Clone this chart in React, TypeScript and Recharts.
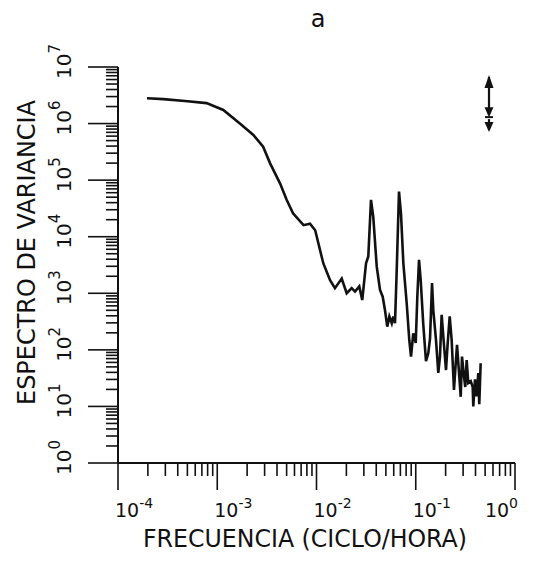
import React from 'react';
import { LineChart, Line, XAxis, YAxis, ReferenceLine } from 'recharts';

// frequency (ciclo/hora) and variance spectrum
const freq = [
  1.96e-4, 2.86e-4, 4.73e-4, 7.8e-4, 1.15e-3, 1.69e-3, 2.31e-3, 2.9e-3, 3.4e-3, 4.3e-3,
  5.0e-3, 5.8e-3, 7.4e-3, 8.6e-3, 9.7e-3, 1.17e-2, 1.37e-2, 1.534e-2, 1.795e-2, 2.014e-2,
  2.264e-2, 2.443e-2, 2.698e-2, 2.89e-2, 3.155e-2, 3.326e-2, 3.54e-2, 3.733e-2, 4.045e-2, 4.365e-2,
  4.645e-2, 4.9e-2, 5.165e-2, 5.42e-2, 5.73e-2, 5.94e-2, 6.18e-2, 6.43e-2, 6.78e-2, 7.1e-2,
  7.5e-2, 8.11e-2, 8.61e-2, 8.96e-2, 9.44e-2, 0.1, 0.1037, 0.1079, 0.1122, 0.1191,
  0.1268, 0.1337, 0.1393, 0.1459, 0.1503, 0.16, 0.1687, 0.1754, 0.1824, 0.1897,
  0.2018, 0.2099, 0.2198, 0.2301, 0.2427, 0.2529, 0.2606, 0.2729, 0.2838, 0.2924,
  0.3062, 0.3155, 0.3258, 0.3381, 0.3578, 0.3748, 0.38, 0.3954, 0.4111, 0.4266,
  0.4365, 0.4508,
];
const spectrum = [
  2.8e6, 2.7e6, 2.5e6, 2.3e6, 1.74e6, 1.0e6, 6.3e5, 3.9e5, 2.0e5, 8.7e4,
  4.5e4, 2.6e4, 1.6e4, 1.7e4, 1.3e4, 3400, 1700, 1230, 1820, 1000,
  1230, 1070, 1320, 760, 3390, 4470, 44700, 22400, 2950, 1150,
  870, 500, 257, 390, 295, 390, 295, 2570, 63000, 25700,
  3390, 660, 148, 76, 195, 132, 870, 3890, 1700, 280,
  63, 87, 160, 1510, 500, 148, 39, 76, 417, 170,
  44, 132, 390, 148, 19.5, 58, 123, 39, 14.8, 76,
  34, 22, 66, 26, 28, 22, 10, 30, 15, 39,
  11, 58,
];

// confidence bar (top right)
const barFreq = 0.547;
const barTop = 7.2e6;
const barMid = 1.3e6;
const barBottom = 7.1e5;

const xDecades = [-4, -3, -2, -1];
const yDecades = [0, 1, 2, 3, 4, 5, 6];
const xTicks = [...xDecades.flatMap((d) => [1, 2, 3, 4, 5, 6, 7, 8, 9].map((k) => k * Math.pow(10, d))), 1];
const yTicks = [...yDecades.flatMap((d) => [1, 2, 3, 4, 5, 6, 7, 8, 9].map((k) => k * Math.pow(10, d))), 1e7];

const data = freq.map((f, i) => ({ f, v: spectrum[i] }));

const FONT = '"DejaVu Sans", sans-serif';

const isMajor = (v: number) => Math.abs(Math.log10(v) - Math.round(Math.log10(v))) < 1e-6;

function XTick(props: any) {
  const { x, y, payload } = props;
  const major = isMajor(payload.value);
  const exp = Math.round(Math.log10(payload.value));
  const last = exp === 0;
  return (
    <g>
      <line x1={x} y1={y} x2={x} y2={y + (major ? 27 : 13)} stroke="#111" strokeWidth={1.6} />
      {major && (
        <text
          x={last ? x + 3 : x - 3}
          y={y + 54}
          textAnchor={last ? 'end' : 'start'}
          fontFamily={FONT}
          fontSize={19}
          fill="#111"
        >
          10
          <tspan dy={-9} fontSize={14}>
            {exp}
          </tspan>
        </text>
      )}
    </g>
  );
}

function YTick(props: any) {
  const { x, y, payload } = props;
  const major = isMajor(payload.value);
  const exp = Math.round(Math.log10(payload.value));
  return (
    <g>
      <line x1={x} y1={y} x2={x - (major ? 30 : 12)} y2={y} stroke="#111" strokeWidth={1.6} />
      {major && (
        <g transform={`translate(${x - 47}, ${y}) rotate(-90)`}>
          <text x={-12} y={0} fontFamily={FONT} fontSize={20} fill="#111">
            10
            <tspan dy={-11} fontSize={15}>
              {exp}
            </tspan>
          </text>
        </g>
      )}
    </g>
  );
}

function ArrowShape(props: any) {
  const { x1, y1, x2, y2, up } = props;
  const top = Math.min(y1, y2);
  const bottom = Math.max(y1, y2);
  const x = x1;
  return (
    <g>
      <line x1={x} y1={top + 2} x2={x} y2={bottom - 2} stroke="#111" strokeWidth={2.2} />
      {up && <polygon points={`${x},${top} ${x - 4.5},${top + 13} ${x + 4.5},${top + 13}`} fill="#111" />}
      <polygon points={`${x},${bottom} ${x - 4.5},${bottom - 10} ${x + 4.5},${bottom - 10}`} fill="#111" />
      {!up && <line x1={x - 4} y1={top} x2={x + 4} y2={top} stroke="#111" strokeWidth={2} />}
    </g>
  );
}

export default function App() {
  return (
    <div style={{ position: 'absolute', left: 0, top: 0, width: 544, height: 572, background: '#fff' }}>
      <LineChart
        width={544}
        height={572}
        data={data}
        margin={{ top: 67, right: 29, bottom: 108, left: 117 }}
      >
        <XAxis
          dataKey="f"
          type="number"
          scale="log"
          domain={[1e-4, 1]}
          ticks={xTicks}
          interval={0}
          allowDataOverflow
          height={1}
          tickSize={0}
          tickMargin={0}
          tickLine={false}
          axisLine={{ stroke: '#111', strokeWidth: 2 }}
          tick={<XTick />}
        />
        <YAxis
          dataKey="v"
          type="number"
          scale="log"
          domain={[1, 1e7]}
          ticks={yTicks}
          interval={0}
          allowDataOverflow
          width={1}
          tickSize={0}
          tickMargin={0}
          tickLine={false}
          axisLine={{ stroke: '#111', strokeWidth: 2 }}
          tick={<YTick />}
        />
        <ReferenceLine
          segment={[
            { x: barFreq, y: barTop },
            { x: barFreq, y: barMid },
          ]}
          shape={(p: any) => <ArrowShape {...p} up />}
        />
        <ReferenceLine
          segment={[
            { x: barFreq, y: barMid },
            { x: barFreq, y: barBottom },
          ]}
          shape={(p: any) => <ArrowShape {...p} />}
        />
        <Line
          dataKey="v"
          type="linear"
          stroke="#111"
          strokeWidth={2.6}
          dot={false}
          isAnimationActive={false}
        />
      </LineChart>
      <svg
        width={544}
        height={572}
        style={{ position: 'absolute', left: 0, top: 0, pointerEvents: 'none' }}
      >
        <text x={318} y={27} textAnchor="middle" fontFamily={FONT} fontSize={24} fill="#111">
          a
        </text>
        <text
          x={143}
          y={547}
          textLength={324}
          lengthAdjust="spacingAndGlyphs"
          fontFamily={FONT}
          fontSize={25}
          fill="#111"
        >
          FRECUENCIA (CICLO/HORA)
        </text>
        <g transform="translate(35, 405) rotate(-90)">
          <text
            x={0}
            y={0}
            textLength={305}
            lengthAdjust="spacingAndGlyphs"
            fontFamily={FONT}
            fontSize={25}
            fill="#111"
          >
            ESPECTRO DE VARIANCIA
          </text>
        </g>
      </svg>
    </div>
  );
}
